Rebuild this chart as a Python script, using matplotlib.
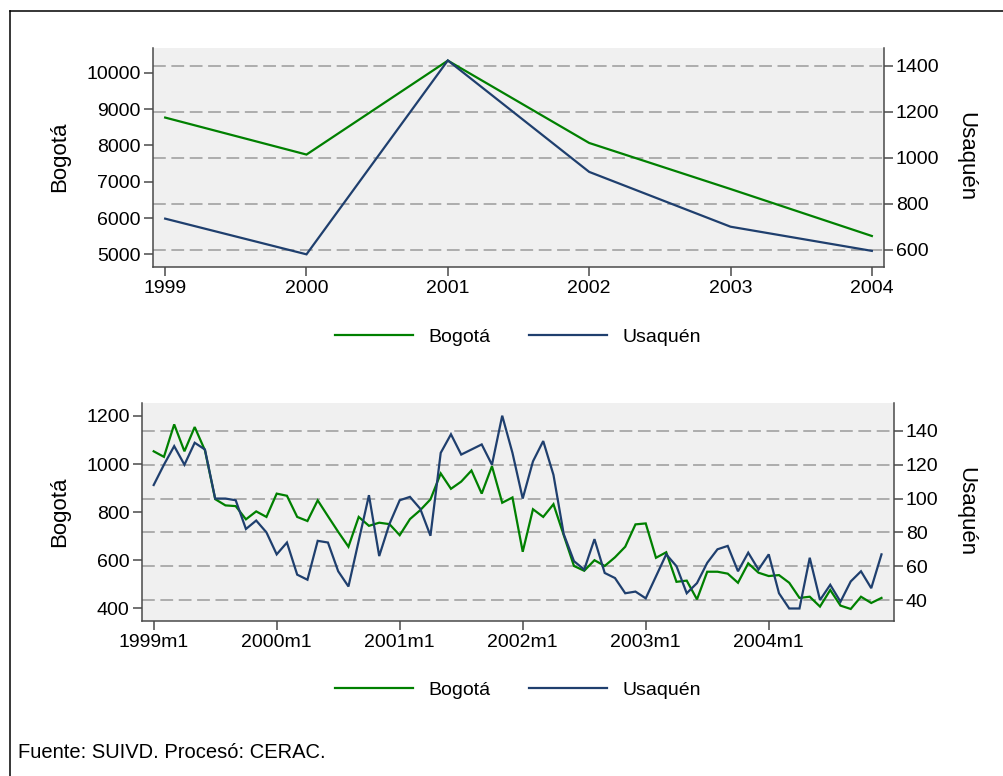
import matplotlib
matplotlib.use("Agg")
import matplotlib.pyplot as plt
from matplotlib.lines import Line2D
from matplotlib.transforms import blended_transform_factory

plt.rcParams['font.family'] = ['Liberation Sans', 'DejaVu Sans']

# Annual totals
years = [1999, 2000, 2001, 2002, 2003, 2004]
bogota_year = [8770, 7750, 10340, 8070, 6800, 5505]
usaquen_year = [736, 581, 1423, 939, 701, 596]

# Monthly totals, 1999m1 .. 2004m12
bogota_month = [1053, 1030, 1165, 1053, 1154, 1057, 854, 828, 825, 770, 803, 780,
                877, 868, 780, 763, 849, 783, 718, 656, 780, 743, 756, 750,
                704, 771, 808, 853, 961, 897, 927, 973, 877, 991, 839, 861,
                635, 812, 780, 833, 704, 576, 556, 600, 576, 612, 656, 749,
                753, 610, 633, 510, 515, 437, 552, 552, 544, 506, 587, 548,
                534, 538, 506, 443, 448, 407, 476, 411, 397, 448, 422, 443]
usaquen_month = [108, 120, 131, 120, 133, 129, 100, 100, 99, 82, 87, 80,
                 67, 74, 55, 52, 75, 74, 57, 48, 75, 102, 66, 85,
                 99, 101, 94, 78, 127, 138, 126, 129, 132, 120, 149, 127,
                 100, 122, 134, 114, 79, 63, 58, 76, 56, 53, 44, 45,
                 41, 54, 67, 60, 44, 50, 62, 70, 72, 57, 68, 58,
                 67, 44, 35, 35, 65, 40, 49, 39, 51, 57, 47, 67]
month_index = list(range(len(bogota_month)))
month_ticks = [0, 12, 24, 36, 48, 60]
month_labels = ['1999m1', '2000m1', '2001m1', '2002m1', '2003m1', '2004m1']

left_ticks_year = [5000, 6000, 7000, 8000, 9000, 10000]
right_ticks_year = [600, 800, 1000, 1200, 1400]
left_ticks_month = [400, 600, 800, 1000, 1200]
right_ticks_month = [40, 60, 80, 100, 120, 140]

GREEN = '#008000'
NAVY = '#1f3f6e'
BG = '#f0f0f0'
SPINE = '#4a4a4a'
GRID = '#9e9e9e'
FS = 14

W, H = 1004, 776
fig = plt.figure(figsize=(W / 100, H / 100), dpi=100)
fig.patch.set_facecolor('white')


def px_box(x0, y0, x1, y1):
    return [x0 / W, 1 - y1 / H, (x1 - x0) / W, (y1 - y0) / H]


def panel(rect, x, left_vals, right_vals, xlim, ylim_l, ylim_r,
          xticks, xticklabels, lticks, rticks, ylab_y):
    ax = fig.add_axes(rect)
    ax2 = ax.twinx()
    ax.set_facecolor(BG)
    ax2.patch.set_visible(False)

    ax.set_xlim(*xlim)
    ax.set_ylim(*ylim_l)
    ax2.set_ylim(*ylim_r)

    # dashed reference lines at the right-axis ticks, kept under the series
    tr = blended_transform_factory(ax.transAxes, ax2.transData)
    for v in rticks:
        ax.plot([0, 1], [v, v], transform=tr, color=GRID, lw=1.15,
                linestyle=(0, (8, 3.5)), zorder=1)

    l1, = ax.plot(x, left_vals, color=GREEN, lw=1.6, zorder=3,
                  solid_joinstyle='miter')
    l2, = ax2.plot(x, right_vals, color=NAVY, lw=1.6, zorder=3,
                   solid_joinstyle='miter')

    ax.set_xticks(xticks)
    ax.set_xticklabels(xticklabels)
    ax.set_yticks(lticks)
    ax2.set_yticks(rticks)

    for a in (ax, ax2):
        for s in a.spines.values():
            s.set_visible(False)
            s.set_color(SPINE)
            s.set_linewidth(1.1)
        a.tick_params(colors=SPINE, labelcolor='black', labelsize=FS,
                      width=1.1, length=6.5)
    ax.spines['left'].set_visible(True)
    ax.spines['bottom'].set_visible(True)
    ax2.spines['right'].set_visible(True)
    ax.tick_params(axis='y', pad=2.5)
    ax2.tick_params(axis='y', pad=2.0)
    ax.tick_params(axis='x', pad=3.0)

    fig.text(60 / W, 1 - ylab_y / H, 'Bogotá', rotation=90, ha='center',
             va='center', fontsize=FS + 2)
    fig.text(966 / W, 1 - ylab_y / H, 'Usaquén', rotation=-90, ha='center',
             va='center', fontsize=FS + 2)
    return l1, l2


def legend(handles, ycen):
    fig.legend(handles, ['Bogotá', 'Usaquén'], loc='center',
               bbox_to_anchor=(518 / W, 1 - ycen / H), ncol=2, frameon=False,
               fontsize=FS, handlelength=4.0, handletextpad=0.8,
               columnspacing=2.0)


h = panel(px_box(153, 48, 884, 267), years, bogota_year, usaquen_year,
          (1998.914, 2004.086), (4650, 10688), (526, 1477),
          years, [str(y) for y in years], left_ticks_year, right_ticks_year,
          157)
legend(h, 337)

h = panel(px_box(142, 403, 894, 621), month_index, bogota_month,
          usaquen_month, (-1.14, 72.22), (347, 1254), (27.6, 156.5),
          month_ticks, month_labels, left_ticks_month, right_ticks_month,
          512)
legend(h, 690)

fig.text(18 / W, 1 - 752 / H, 'Fuente: SUIVD. Procesó: CERAC.',
         ha='left', va='center', fontsize=FS + 0.5)

# outer frame (left and top edges)
fig.add_artist(Line2D([9.5 / W, 9.5 / W], [0, 1 - 10.5 / H], color='black',
                      lw=1.1, transform=fig.transFigure))
fig.add_artist(Line2D([9.5 / W, 1], [1 - 10.5 / H, 1 - 10.5 / H],
                      color='black', lw=1.1, transform=fig.transFigure))

fig.savefig('out.png', dpi=100, facecolor='white')
